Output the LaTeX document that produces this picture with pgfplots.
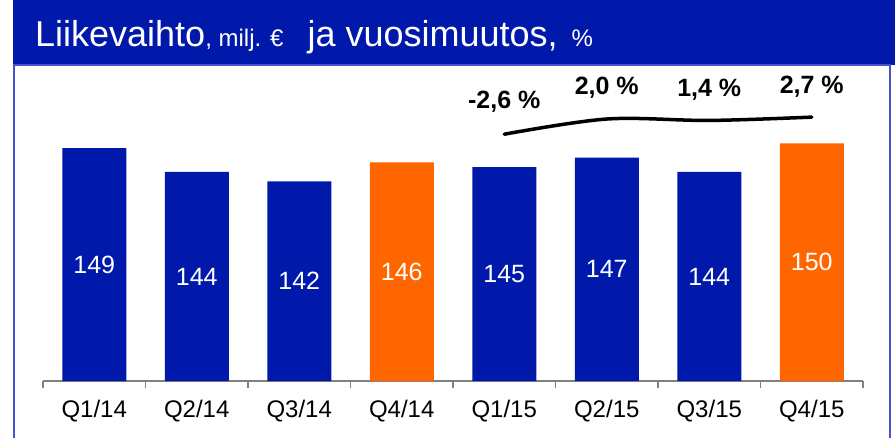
\documentclass[border=0pt]{standalone}
\usepackage{pgfplots}
\pgfplotsset{compat=1.18}
\usepackage{fontspec}
\setmainfont{Liberation Sans}
\definecolor{barblue}{HTML}{0019AA}
\definecolor{barorange}{HTML}{FF6600}
\definecolor{framecol}{HTML}{4455CC}
\begin{document}
\begin{tikzpicture}[x=1pt,y=1pt]
\path[use as bounding box] (0,0) rectangle (895,437);
\fill[barblue] (13,372) rectangle (895,437);
\draw[framecol, line width=1.5pt] (14,-5) -- (14,372) -- (890,372) -- (890,-5);
\node[anchor=base west, white, inner sep=0pt] at (35,390) {\fontsize{36}{40}\selectfont Liikevaihto\fontsize{24}{28}\selectfont, milj. €\hspace{24pt}\fontsize{36}{40}\selectfont ja vuosimuutos,\fontsize{24}{28}\selectfont\hspace{14pt}\%};
\begin{axis}[
  at={(43pt,56pt)}, anchor=south west,
  scale only axis, width=820pt, height=315pt,
  xmin=-0.5, xmax=7.5, ymin=100, ymax=166.25,
  axis x line=bottom, axis y line=none,
  axis line style={draw=gray, line width=1.5pt, -},
  xtick={0,...,7},
  xticklabels={Q1/14,Q2/14,Q3/14,Q4/14,Q1/15,Q2/15,Q3/15,Q4/15},
  major tick length=0pt,
  minor xtick={-0.5,0.5,1.5,2.5,3.5,4.5,5.5,6.5,7.5},
  minor tick length=7pt, tick align=outside,
  minor tick style={draw=gray, line width=1.5pt},
  xticklabel style={font=\fontsize{24}{28}\selectfont, anchor=north, inner sep=0pt, yshift=-19pt},
  /pgf/number format/assume math mode=true,
  clip=false,
]
\addplot[ybar, bar width=64pt, bar shift=0pt, fill=barblue, draw=none,
  visualization depends on={y \as \rawy},
  nodes near coords,
  nodes near coords style={anchor=center, white, font=\fontsize{25}{28}\selectfont, yshift={-(\rawy-100)*2.3774}}]
  coordinates {(0,149) (1,144) (2,142) (4,145) (5,147) (6,144)};
\addplot[ybar, bar width=64pt, bar shift=0pt, fill=barorange, draw=none,
  visualization depends on={y \as \rawy},
  nodes near coords,
  nodes near coords style={anchor=center, white, font=\fontsize{25}{28}\selectfont, yshift={-(\rawy-100)*2.3774}}]
  coordinates {(3,146) (7,150)};
\addplot[black, line width=3.5pt, smooth, tension=0.55, line cap=round]
  coordinates {(4,151.9) (5,155.1) (6,154.8) (7,155.5)};
\addplot[draw=none, mark=none, nodes near coords, point meta=explicit symbolic,
  nodes near coords style={anchor=center, font=\bfseries\fontsize{25}{28}\selectfont}]
  coordinates {(4,158.7) [{-2,6 \%}] (5,161.6) [{2,0 \%}] (6,161.2) [{1,4 \%}] (7,161.8) [{2,7 \%}]};
\end{axis}
\end{tikzpicture}
\end{document}
